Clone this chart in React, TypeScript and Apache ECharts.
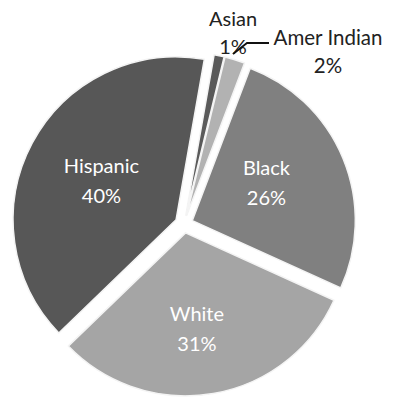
import React, { useEffect, useRef } from "react";
import * as echarts from "echarts";

const categories = ["Asian", "Amer Indian", "Black", "White", "Hispanic"];
const values = [1, 2, 26, 31, 40];
const colors = ["#5a5a5a", "#b2b2b2", "#808080", "#a5a5a5", "#575757"];

const FONT = "Lato, 'Open Sans', sans-serif";

export default function App() {
  const ref = useRef<HTMLDivElement>(null);
  useEffect(() => {
    if (!ref.current) return;
    const chart = echarts.init(ref.current, null, { renderer: "svg" });
    const data = categories.map((name, i) => {
      const small = values[i] < 5;
      return {
        name,
        value: values[i],
        selected: true,
        itemStyle: { color: colors[i] },
        label: { show: !small },
        labelLine: { show: false },
      };
    });
    const outerText = (i: number) => `${categories[i]}\n${values[i]}%`;
    chart.setOption({
      animation: false,
      backgroundColor: "#ffffff",
      series: [
        {
          type: "pie",
          center: [184, 224],
          radius: 163,
          startAngle: 80,
          clockwise: true,
          selectedMode: "multiple",
          selectedOffset: 9,
          avoidLabelOverlap: false,
          emphasis: { disabled: true },
          itemStyle: { borderColor: "#f4f4f4", borderWidth: 1.5 },
          label: {
            show: true,
            position: "inside",
            color: "#ffffff",
            fontSize: 20,
            lineHeight: 30,
            fontFamily: FONT,
            formatter: (p: any) => `${p.name}\n${p.value}%`,
          },
          labelLayout: (params: any) => {
            if (params.dataIndex === 2) return { dx: -4, dy: -6 };
            if (params.dataIndex === 3) return { dx: -3, dy: 12 };
            return {};
          },
          data,
        },
      ],
      graphic: [
        {
          type: "text",
          x: 233,
          y: 4,
          style: {
            text: outerText(0),
            align: "center",
            verticalAlign: "top",
            fontSize: 20,
            lineHeight: 28,
            fontFamily: FONT,
            fill: "#222",
          },
        },
        {
          type: "text",
          x: 328,
          y: 23,
          style: {
            text: outerText(1),
            align: "center",
            verticalAlign: "top",
            fontSize: 20.5,
            lineHeight: 28,
            fontFamily: FONT,
            fill: "#222",
          },
        },
        {
          type: "polyline",
          shape: { points: [[233, 54], [247, 43], [269, 43]] },
          style: { stroke: "#111", lineWidth: 1.8, fill: "none" },
        },
      ],
    });
    return () => chart.dispose();
  }, []);
  return (
    <div
      ref={ref}
      style={{ position: "absolute", left: 0, top: 0, width: 396, height: 402 }}
    />
  );
}
